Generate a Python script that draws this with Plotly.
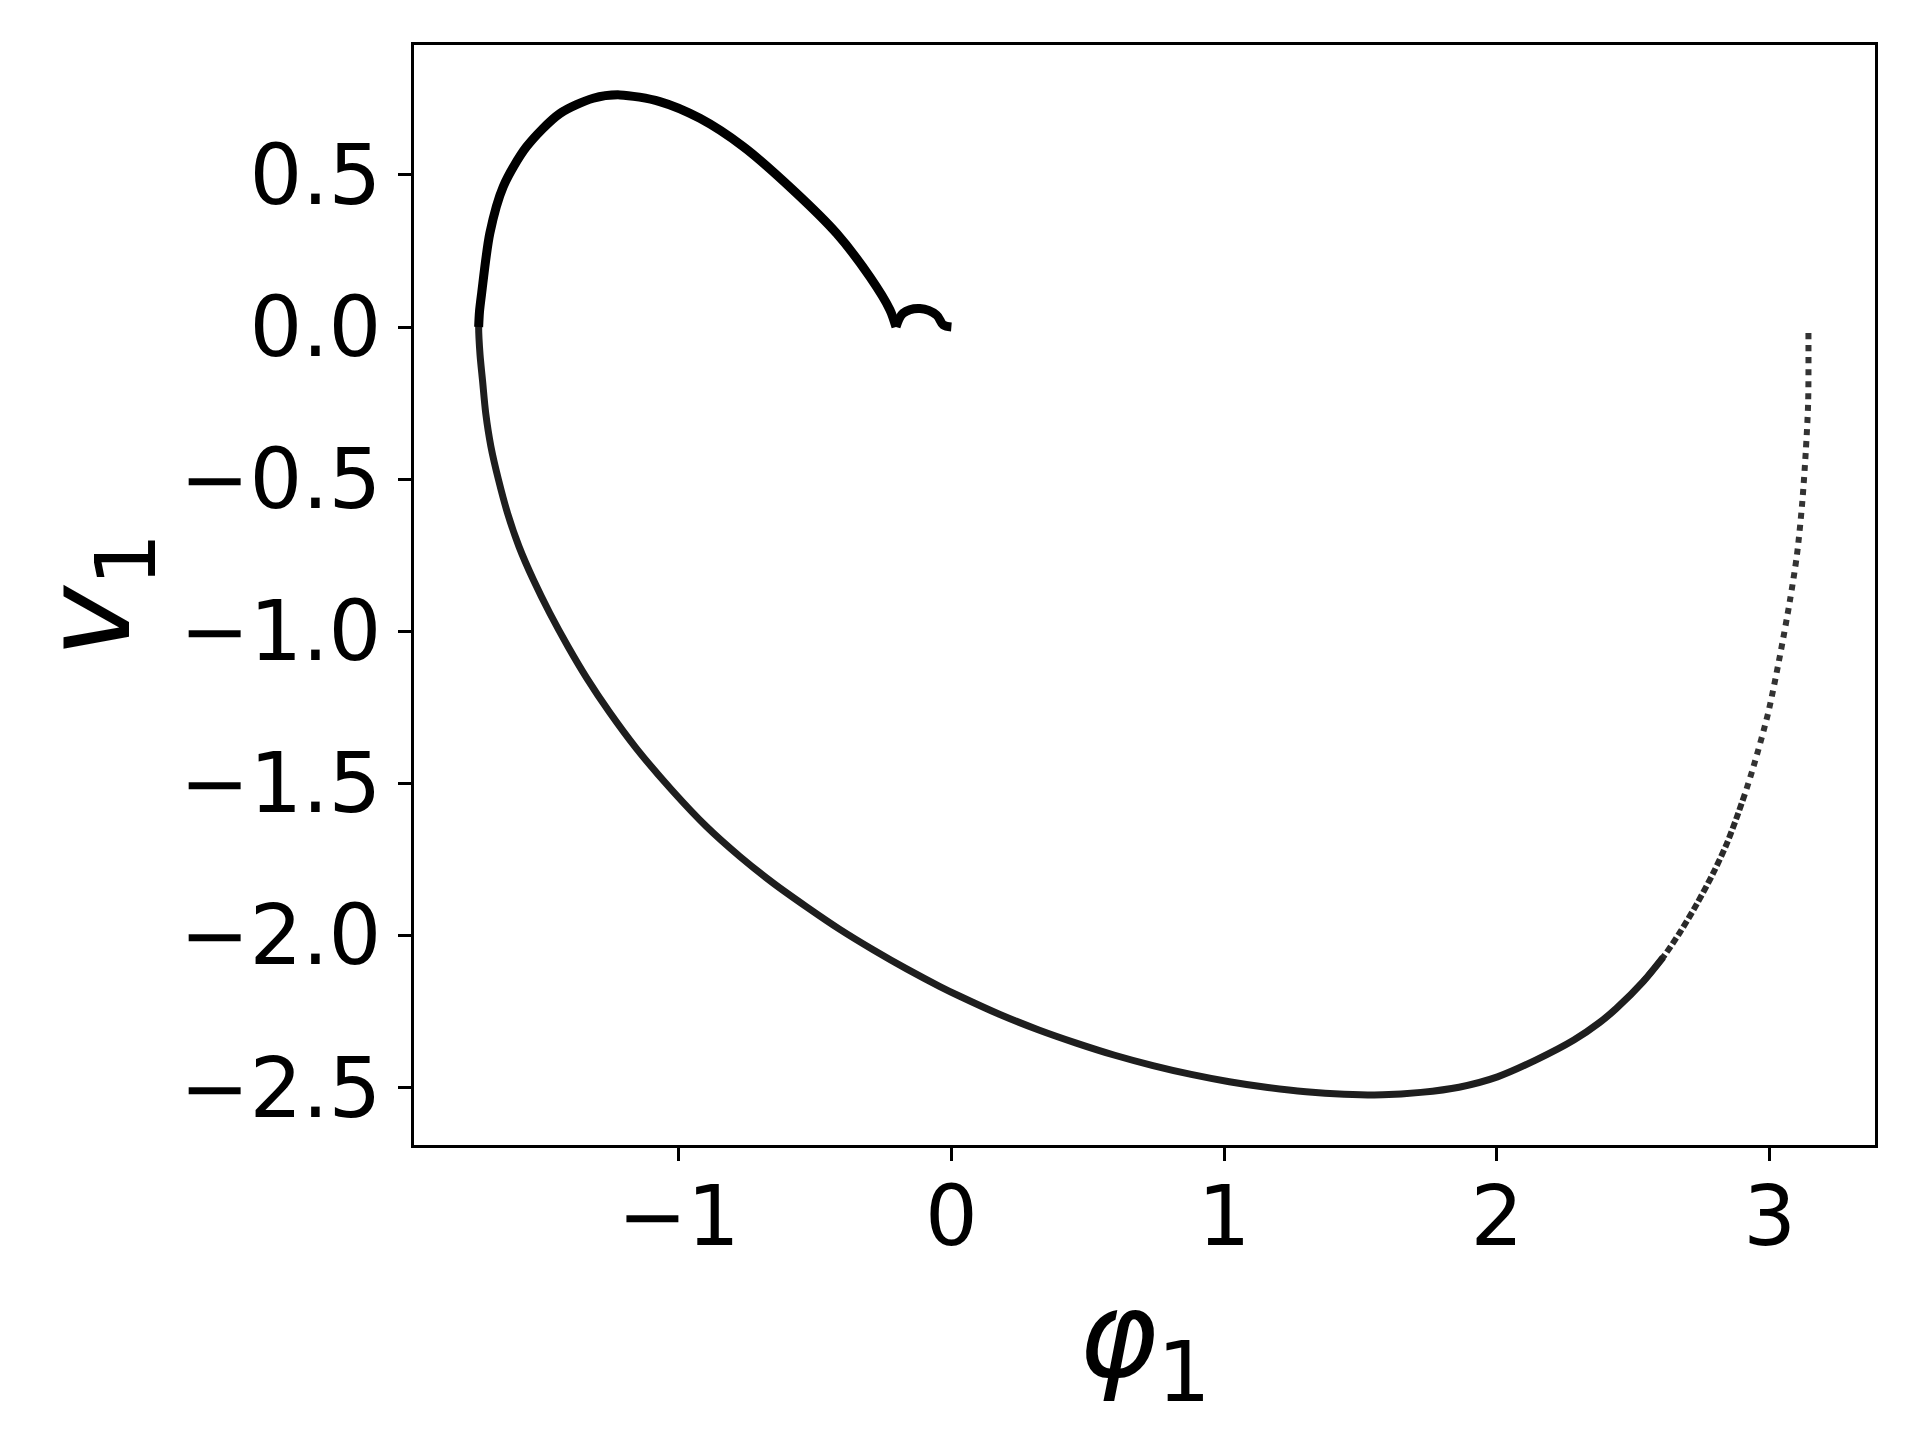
import plotly.graph_objects as go

# phase trajectory (phi_1 in rad, v_1)
# part 1: release near phi = pi, sparse samples
phi_fall = [3.142, 3.141, 3.132, 3.119, 3.100, 3.074, 3.037, 2.994, 2.939, 2.909]
v_fall = [-0.02, -0.246, -0.413, -0.58, -0.748, -0.900, -1.083, -1.27, -1.450, -1.535]

# part 2: samples get denser while speeding up
phi_speed = [2.909, 2.878, 2.842, 2.793, 2.732, 2.671, 2.609, 2.536]
v_speed = [-1.535, -1.615, -1.700, -1.795, -1.898, -1.990, -2.072, -2.152]

# part 3: swing through the bottom and up the left side
phi_swing = [2.609, 2.536, 2.438, 2.377, 2.282, 2.142, 2.002, 1.861, 1.721, 1.581,
             1.44, 1.30, 1.16, 1.019, 0.879, 0.739, 0.599, 0.458, 0.318, 0.178,
             0.031, -0.042, -0.164, -0.287, -0.409, -0.531, -0.653, -0.775, -0.897, -1.025,
             -1.155, -1.255, -1.336, -1.405, -1.472, -1.532, -1.585, -1.627, -1.660, -1.688,
             -1.707, -1.719, -1.728, -1.733, -1.730]
v_swing = [-2.072, -2.152, -2.240, -2.286, -2.344, -2.41, -2.465, -2.499, -2.516, -2.524,
           -2.522, -2.514, -2.500, -2.481, -2.457, -2.428, -2.394, -2.354, -2.310, -2.260,
           -2.200, -2.168, -2.110, -2.047, -1.980, -1.906, -1.828, -1.741, -1.643, -1.522,
           -1.385, -1.264, -1.155, -1.051, -0.941, -0.832, -0.722, -0.612, -0.503, -0.393,
           -0.284, -0.174, -0.09, 0.0, 0.05]

# part 4: back over the top and down to v = 0
phi_settle = [-1.733, -1.730, -1.722, -1.692, -1.643, -1.557, -1.435, -1.313, -1.215, -1.069,
              -0.922, -0.763, -0.58, -0.421, -0.299, -0.225, -0.203]
v_settle = [0.0, 0.05, 0.111, 0.308, 0.461, 0.593, 0.702, 0.752, 0.763, 0.741,
            0.686, 0.593, 0.45, 0.308, 0.165, 0.056, 0.0]

# part 5: small hop into the origin
phi_loop = [-0.203, -0.177, -0.115, -0.054, -0.03, 0.0]
v_loop = [0.0, 0.045, 0.061, 0.039, 0.007, 0.0]

x_ticks = [-1, 0, 1, 2, 3]
x_labels = ["−1", "0", "1", "2", "3"]
y_ticks = [0.5, 0.0, -0.5, -1.0, -1.5, -2.0, -2.5]
y_labels = ["0.5", "0.0", "−0.5", "−1.0", "−1.5", "−2.0", "−2.5"]

fig = go.Figure()
fig.add_trace(go.Scatter(x=phi_fall, y=v_fall, mode="lines",
                         line=dict(color="#333333", width=6, dash="6px,6px",
                                   shape="spline", smoothing=0.8)))
fig.add_trace(go.Scatter(x=phi_speed, y=v_speed, mode="lines",
                         line=dict(color="#2a2a2a", width=6, dash="7px,3px",
                                   shape="spline", smoothing=0.8)))
fig.add_trace(go.Scatter(x=phi_swing, y=v_swing, mode="lines",
                         line=dict(color="#1e1e1e", width=7, shape="spline", smoothing=0.8)))
fig.add_trace(go.Scatter(x=phi_settle, y=v_settle, mode="lines",
                         line=dict(color="black", width=9, shape="spline", smoothing=0.8)))
fig.add_trace(go.Scatter(x=phi_loop, y=v_loop, mode="lines",
                         line=dict(color="black", width=9, shape="spline", smoothing=1)))

axis_style = dict(showgrid=False, zeroline=False, showline=True, mirror=True,
                  linecolor="black", linewidth=3, ticks="outside", ticklen=13,
                  tickwidth=3, tickcolor="black",
                  tickfont=dict(family="DejaVu Sans", size=83, color="black"))

fig.update_layout(
    width=1920, height=1440,
    margin=dict(l=406, r=53, t=37, b=303),
    paper_bgcolor="white", plot_bgcolor="white",
    showlegend=False,
    xaxis=dict(range=[-1.970, 3.386], tickvals=x_ticks, ticktext=x_labels,
               ticklabelstandoff=-16,
               title=dict(text="<i>φ</i><sub>1</sub>", standoff=0,
                          font=dict(family="DejaVu Sans", size=120, color="black")),
               **axis_style),
    yaxis=dict(range=[-2.689, 0.927], tickvals=y_ticks, ticktext=y_labels,
               title=dict(text="<i>v</i><sub>1</sub>", standoff=10,
                          font=dict(family="DejaVu Sans", size=120, color="black")),
               **axis_style),
)

fig.write_html("out.html")
